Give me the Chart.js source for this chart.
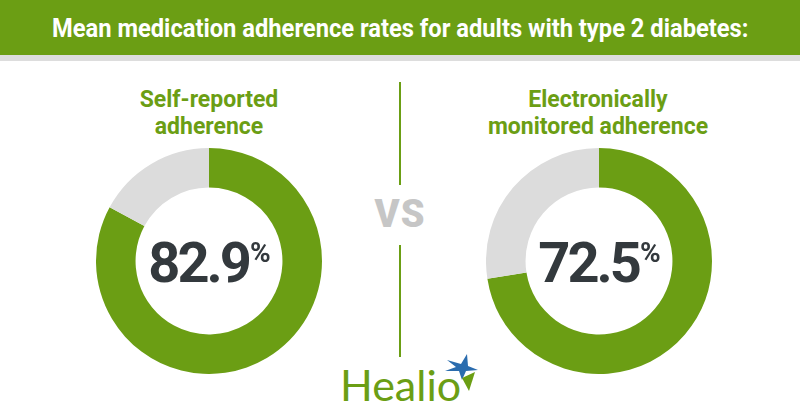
<!DOCTYPE html>
<html>
<head>
<meta charset="utf-8">
<script src="https://cdn.jsdelivr.net/npm/chart.js@4.4.1/dist/chart.umd.min.js"></script>
<style>
  body { margin: 0; background: #fff; }
  #wrap { position: relative; width: 800px; height: 420px; overflow: hidden; background: #fff; font-family: Roboto, "Noto Sans", sans-serif; }
  #header { position: absolute; left: 0; top: 0; width: 800px; height: 55px; background: #6b9e14; border-bottom: 6px solid #dddddd; }
  #title { position: absolute; left: 0; top: 0; width: 800px; line-height: 58px; text-align: center; color: #fff; font-family: Roboto, sans-serif; font-weight: bold; font-size: 25px; white-space: nowrap; }
  #titleText { display: inline-block; transform-origin: center; }
  .sub { position: absolute; top: 86px; width: 300px; text-align: center; color: #6b9e14; font-weight: bold; font-size: 23px; line-height: 27px; }
  .vline { position: absolute; left: 399px; width: 2px; background: #6b9e14; }
  #vs { position: absolute; left: 350px; width: 100px; top: 194px; text-align: center; color: #c6c6c6; font-weight: 900; font-size: 38px; line-height: 40px; letter-spacing: 1px; }
  #logo { position: absolute; left: 340px; top: 361px; color: #6b9e14; font-family: Lato, sans-serif; font-size: 43px; line-height: 48px; }
  canvas { position: absolute; }
</style>
</head>
<body>
<div id="wrap">
  <div id="header"><div id="title"><span id="titleText">Mean medication adherence rates for adults with type 2 diabetes:</span></div></div>
  <div class="sub" style="left:59px">Self-reported<br>adherence</div>
  <div class="sub" style="left:448px">Electronically<br>monitored adherence</div>
  <div class="vline" style="top:82px;height:103px"></div>
  <div id="vs">VS</div>
  <div class="vline" style="top:245px;height:112px"></div>
  <div id="logo">Healio</div>
  <svg style="position:absolute;left:0;top:0" width="800" height="420">
    <polygon points="447,360 461,364 467,354 468,366 478,370 466,371 462,380 459,371 445,371 456,367" fill="#2a6cae"/>
    <polygon points="462,378 475,372 469,391" fill="#6b9e14"/>
  </svg>
  <canvas id="c0" width="226" height="226" style="left:96px;top:148px"></canvas>
  <canvas id="c1" width="226" height="226" style="left:486px;top:148px"></canvas>
</div>
<script>
const categories = ['Self-reported adherence', 'Electronically monitored adherence'];
const adherenceRates = [82.9, 72.5];
const remainderRates = [17.1, 27.5];

const green = '#6b9e14';
const grey = '#dcdcdc';

// titulo em fonte condensada: aperta o texto na largura do original
const t = document.getElementById('titleText');
t.style.transform = 'scaleX(' + (696 / t.offsetWidth) + ')';

// texto central com o valor do anel
const centerText = {
  id: 'centerText',
  afterDraw(chart) {
    const ctx = chart.ctx;
    const arc = chart.getDatasetMeta(0).data[0];
    const x = arc.x, y = arc.y;
    const num = chart.data.datasets[0].data[0].toFixed(1);
    ctx.save();
    ctx.fillStyle = '#33393d';
    ctx.textBaseline = 'alphabetic';
    ctx.textAlign = 'left';
    ctx.letterSpacing = '-3px';
    ctx.font = 'bold 56px Roboto';
    const wNum = ctx.measureText(num).width;
    ctx.letterSpacing = '0px';
    ctx.font = 'bold 28px Roboto';
    const wPct = ctx.measureText('%').width;
    const left = x - (wNum + wPct) / 2;
    ctx.letterSpacing = '-3px';
    ctx.font = 'bold 56px Roboto';
    ctx.fillText(num, left, y + 21);
    ctx.letterSpacing = '0px';
    ctx.font = 'bold 28px Roboto';
    ctx.fillText('%', left + wNum + 1, y + 1);
    ctx.restore();
  }
};

categories.forEach((cat, i) => {
  new Chart(document.getElementById('c' + i), {
    type: 'doughnut',
    data: {
      labels: [cat, 'Other'],
      datasets: [{
        data: [adherenceRates[i], remainderRates[i]],
        backgroundColor: [green, grey],
        borderWidth: 0
      }]
    },
    options: {
      responsive: false,
      animation: false,
      cutout: '65%',
      plugins: {
        legend: { display: false },
        tooltip: { enabled: false }
      }
    },
    plugins: [centerText]
  });
});
</script>
</body>
</html>
